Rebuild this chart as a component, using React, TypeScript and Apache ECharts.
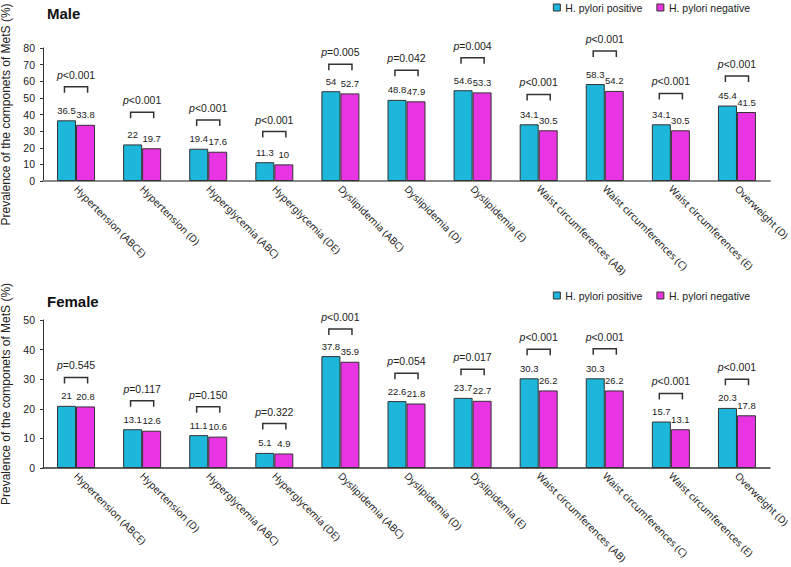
import React, { useEffect, useRef } from "react";
import * as echarts from "echarts";

const categories = [
  "Hypertension (ABCE)",
  "Hypertension (D)",
  "Hyperglycemia (ABC)",
  "Hyperglycemia (DE)",
  "Dyslipidemia (ABC)",
  "Dyslipidemia (D)",
  "Dyslipidemia (E)",
  "Waist circumferences (AB)",
  "Waist circumferences (C)",
  "Waist circumferences (E)",
  "Overweight (D)",
];
const seriesNames = ["H. pylori positive", "H. pylori negative"];

const malePositive = [36.5, 22, 19.4, 11.3, 54, 48.8, 54.6, 34.1, 58.3, 34.1, 45.4];
const maleNegative = [33.8, 19.7, 17.6, 10, 52.7, 47.9, 53.3, 30.5, 54.2, 30.5, 41.5];
const maleP = ["<0.001", "<0.001", "<0.001", "<0.001", "=0.005", "=0.042", "=0.004", "<0.001", "<0.001", "<0.001", "<0.001"];
const maleBracket = [56.7, 41.3, 36.7, 29.7, 70.2, 66.6, 74.2, 52.1, 78.2, 52.7, 63.2];

const femalePositive = [21, 13.1, 11.1, 5.1, 37.8, 22.6, 23.7, 30.3, 30.3, 15.7, 20.3];
const femaleNegative = [20.8, 12.6, 10.6, 4.9, 35.9, 21.8, 22.7, 26.2, 26.2, 13.1, 17.8];
const femaleP = ["=0.545", "=0.117", "=0.150", "=0.322", "<0.001", "=0.054", "=0.017", "<0.001", "<0.001", "<0.001", "<0.001"];
const femaleBracket = [30.6, 22.7, 20.7, 15.0, 47.0, 32.0, 33.4, 40.1, 40.3, 25.2, 30.0];

const maleTicks = { min: 0, max: 80, interval: 10 };
const femaleTicks = { min: 0, max: 50, interval: 10 };

const FONT = "'Liberation Sans', Arial, sans-serif";
const LABEL_FONT = "'Noto Sans', 'Open Sans', sans-serif";
const CYAN = "#1DB7DC";
const MAGENTA = "#E834E2";

function bracketRenderer(pTexts: string[]) {
  return (params: any, api: any) => {
    const [cx, cy] = api.coord([api.value(0), api.value(1)]);
    const half = api.size([1, 0])[0] * 0.175;
    const drop = 6;
    return {
      type: "group",
      children: [
        {
          type: "polyline",
          shape: {
            points: [
              [cx - half, cy + drop],
              [cx - half, cy],
              [cx + half, cy],
              [cx + half, cy + drop],
            ],
          },
          style: { stroke: "#333", lineWidth: 1.5, fill: null },
        },
        {
          type: "text",
          style: {
            text: `{i|p}{n|${pTexts[params.dataIndex]}}`,
            x: cx,
            y: cy - 12,
            align: "center",
            verticalAlign: "middle",
            rich: {
              i: { fontStyle: "italic", fontSize: 10.5, fontFamily: FONT, fill: "#222", color: "#222" },
              n: { fontSize: 10.5, fontFamily: FONT, fill: "#222", color: "#222" },
            },
          },
        },
      ],
    };
  };
}

export default function App() {
  const ref = useRef<HTMLDivElement>(null);
  useEffect(() => {
    if (!ref.current) return;
    const chart = echarts.init(ref.current, null, { renderer: "svg" });

    const xAxisCommon = (axisLineColor: string, axisLineWidth: number) => ({
      type: "category",
      data: categories,
      axisTick: { show: false },
      axisLine: { show: true, lineStyle: { color: axisLineColor, width: axisLineWidth } },
      axisLabel: {
        interval: 0,
        rotate: -45,
        margin: 6,
        fontSize: 10,
        fontFamily: LABEL_FONT,
        color: "#222",
      },
    });
    const yAxisCommon = (t: any) => ({
      type: "value",
      min: t.min,
      max: t.max,
      interval: t.interval,
      name: "Prevalence of the componets of MetS (%)",
      nameLocation: "middle",
      nameGap: 29,
      nameTextStyle: { fontSize: 12, fontFamily: FONT, color: "#222" },
      splitLine: { show: false },
      axisLine: { show: true, lineStyle: { color: "#333", width: 1 } },
      axisTick: { show: true, length: 3, lineStyle: { color: "#333" } },
      axisLabel: { fontSize: 10.5, fontFamily: FONT, color: "#222", margin: 8 },
    });
    const barSeries = (name: string, data: number[], color: string, idx: number) => ({
      name,
      type: "bar",
      xAxisIndex: idx,
      yAxisIndex: idx,
      data,
      barWidth: 19,
      barGap: "0%",
      itemStyle: { color, borderColor: "#333", borderWidth: 1 },
      label: {
        show: true,
        position: "top",
        distance: 5,
        fontSize: 9.5,
        fontFamily: FONT,
        color: "#222",
      },
    });
    const legendCommon = (top: number) => ({
      data: seriesNames,
      top,
      right: 41,
      padding: 0,
      itemWidth: 7,
      itemHeight: 7,
      itemGap: 14,
      icon: "rect",
      itemStyle: { borderColor: "#333", borderWidth: 1 },
      textStyle: { fontSize: 10.5, fontFamily: FONT, color: "#222" },
    });

    chart.setOption({
      animation: false,
      backgroundColor: "#fff",
      title: [
        { text: "Male", left: 47, top: 6, padding: 0, textStyle: { fontSize: 15, fontWeight: "bold", fontFamily: FONT, color: "#111" } },
        { text: "Female", left: 47, top: 294, padding: 0, textStyle: { fontSize: 15, fontWeight: "bold", fontFamily: FONT, color: "#111" } },
      ],
      legend: [legendCommon(2), legendCommon(290)],
      grid: [
        { left: 43, right: 21, top: 48, height: 133, containLabel: false, outerBoundsMode: "none" },
        { left: 43, right: 21, top: 320, height: 148, containLabel: false, outerBoundsMode: "none" },
      ],
      xAxis: [
        { ...xAxisCommon("#888", 2), gridIndex: 0 },
        { ...xAxisCommon("#333", 1.5), gridIndex: 1 },
      ],
      yAxis: [
        { ...yAxisCommon(maleTicks), gridIndex: 0 },
        { ...yAxisCommon(femaleTicks), gridIndex: 1 },
      ],
      series: [
        barSeries(seriesNames[0], malePositive, CYAN, 0),
        barSeries(seriesNames[1], maleNegative, MAGENTA, 0),
        barSeries(seriesNames[0], femalePositive, CYAN, 1),
        barSeries(seriesNames[1], femaleNegative, MAGENTA, 1),
        {
          type: "custom",
          xAxisIndex: 0,
          yAxisIndex: 0,
          clip: false,
          silent: true,
          data: maleBracket.map((v, i) => [i, v]),
          renderItem: bracketRenderer(maleP),
        },
        {
          type: "custom",
          xAxisIndex: 1,
          yAxisIndex: 1,
          clip: false,
          silent: true,
          data: femaleBracket.map((v, i) => [i, v]),
          renderItem: bracketRenderer(femaleP),
        },
      ],
    });
    return () => chart.dispose();
  }, []);

  return (
    <div
      ref={ref}
      style={{ position: "absolute", left: 0, top: 0, width: 791, height: 567 }}
    />
  );
}
